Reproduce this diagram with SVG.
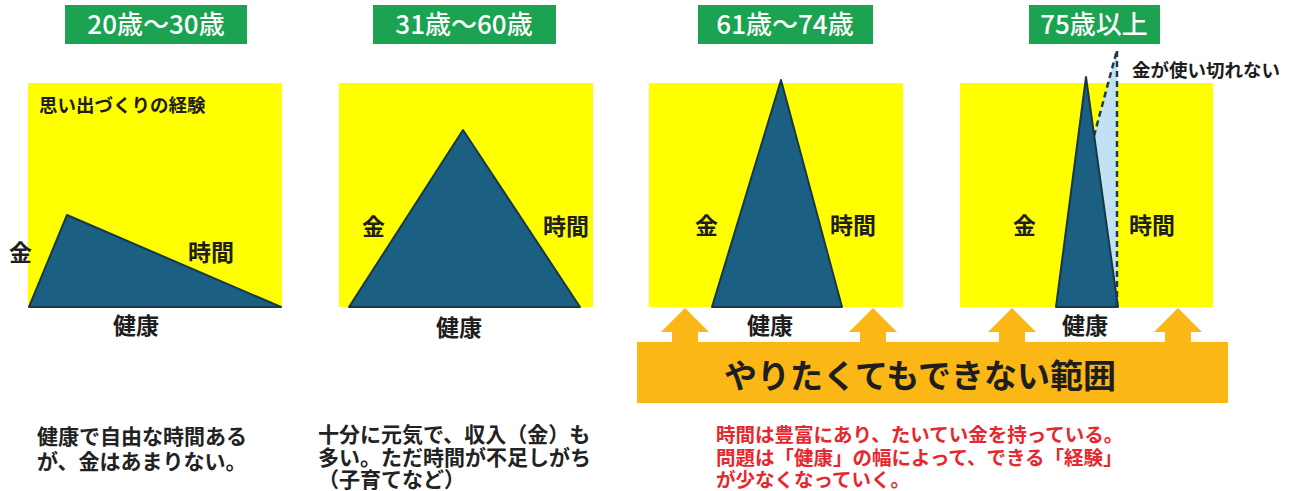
<svg xmlns="http://www.w3.org/2000/svg" width="1300" height="491" viewBox="0 0 1300 491">
<style>
text{font-family:"Noto Sans CJK JP","Noto Sans CJK SC",sans-serif;}
.age{fill:#fff;font-size:26px;font-weight:500;text-anchor:middle;}
.tag{fill:#1ba352;}
.panel{fill:#ffff00;}
.tri{fill:#1b5f82;stroke:#18384a;stroke-width:2;stroke-linejoin:round;}
.lbl{fill:#1e1e1e;font-size:23px;font-weight:700;}
.small{fill:#1e1e1e;font-size:18.5px;font-weight:700;}
.note{fill:#222;font-size:21px;font-weight:700;}
.red{fill:#e8262d;font-size:19.5px;font-weight:700;}
.orange{fill:#fbb715;}
.dash{fill:none;stroke:#1f3a4c;stroke-width:2.5;stroke-dasharray:6 4;}
</style>
<rect width="1300" height="491" fill="#fff"/>

<g id="panel1">
<rect class="tag" x="65" y="5" width="182" height="39"/>
<text class="age" x="156" y="34">20歳〜30歳</text>
<rect class="panel" x="28" y="83" width="254" height="224"/>
<polygon class="tri" points="29,307 67,215 281,307"/>
<text class="small" x="39" y="112">思い出づくりの経験</text>
<text class="lbl" x="9" y="261">金</text>
<text class="lbl" x="188" y="261">時間</text>
<text class="lbl" x="113" y="334">健康</text>
</g>

<g id="panel2">
<rect class="tag" x="373" y="5" width="183" height="39"/>
<text class="age" x="464" y="34">31歳〜60歳</text>
<rect class="panel" x="339" y="83" width="254" height="224"/>
<polygon class="tri" points="349,307 463,130 580,307"/>
<text class="lbl" x="362" y="235">金</text>
<text class="lbl" x="543" y="235">時間</text>
<text class="lbl" x="436" y="336">健康</text>
</g>

<g id="panel3">
<rect class="tag" x="698" y="5" width="175" height="39"/>
<text class="age" x="785" y="34">61歳〜74歳</text>
<rect class="panel" x="649" y="83" width="254" height="224"/>
<polygon class="tri" points="712,307 781,80 842,307"/>
<text class="lbl" x="695" y="234">金</text>
<text class="lbl" x="830" y="234">時間</text>
<text class="lbl" x="747" y="334">健康</text>
</g>

<g id="panel4">
<rect class="tag" x="1029" y="5" width="131" height="39"/>
<text class="age" x="1094" y="34">75歳以上</text>
<rect class="panel" x="960" y="83" width="253" height="224"/>
<polygon points="1094,136 1117,50 1117,307" fill="#c2e2f4"/>
<polygon class="tri" points="1056,307 1086,77 1118,307"/>
<text class="lbl" x="1013" y="234">金</text>
<text class="lbl" x="1129" y="234">時間</text>
<text class="lbl" x="1062" y="334">健康</text>
<text class="small" x="1132" y="77">金が使い切れない</text>
</g>

<g id="connectors">
<polyline class="dash" points="1094,136 1117,50 1117,307"/>
</g>

<g id="banner">
<polygon class="orange" points="685,308 709,332 698,332 698,343 672,343 672,332 661,332"/>
<polygon class="orange" points="873,308 897,332 886,332 886,343 860,343 860,332 849,332"/>
<polygon class="orange" points="1012,308 1036,332 1025,332 1025,343 999,343 999,332 988,332"/>
<polygon class="orange" points="1178,308 1202,332 1191,332 1191,343 1165,343 1165,332 1154,332"/>
<rect class="orange" x="637" y="342" width="591" height="61"/>
<text x="724" y="388" fill="#1e1e1e" font-size="33" font-weight="700">やりたくてもできない範囲</text>
</g>

<g id="notes">
<text class="note"><tspan x="37" y="444">健康で自由な時間ある</tspan><tspan x="37" y="469">が、金はあまりない。</tspan></text>
<text class="note"><tspan x="318" y="442">十分に元気で、収入（金）も</tspan><tspan x="318" y="465">多い。ただ時間が不足しがち</tspan><tspan x="318" y="487">（子育てなど）</tspan></text>
<text class="red"><tspan x="716" y="442">時間は豊富にあり、たいてい金を持っている。</tspan><tspan x="716" y="465">問題は「健康」の幅によって、できる「経験」</tspan><tspan x="716" y="487">が少なくなっていく。</tspan></text>
</g>
</svg>
